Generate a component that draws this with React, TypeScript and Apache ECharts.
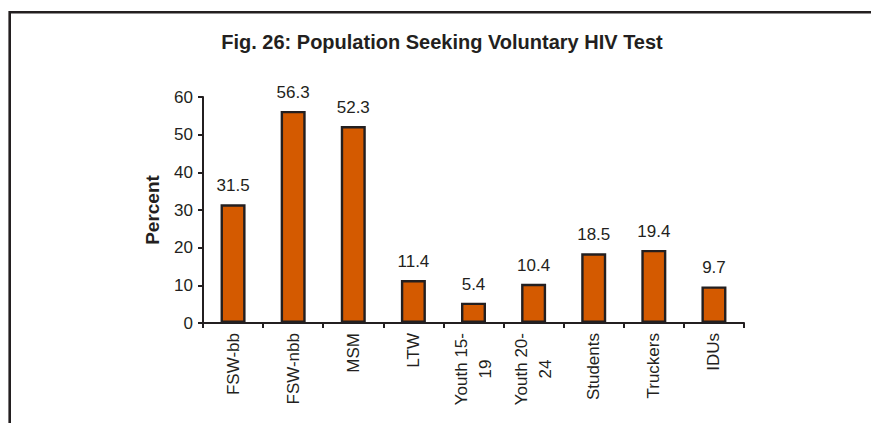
import React, { useEffect, useRef } from "react";
import * as echarts from "echarts";

const titleText = "Fig. 26: Population Seeking Voluntary HIV Test";
const yAxisName = "Percent";
const categories = ["FSW-bb", "FSW-nbb", "MSM", "LTW", "Youth 15-\n19", "Youth 20-\n24", "Students", "Truckers", "IDUs"];
const values = [31.5, 56.3, 52.3, 11.4, 5.4, 10.4, 18.5, 19.4, 9.7];
const yMin = 0;
const yMax = 60;
const yInterval = 10;

const FONT = "'Liberation Sans', Arial, sans-serif";
const INK = "#231f20";
const BAR = "#d45a00";

export default function App() {
  const ref = useRef<HTMLDivElement>(null);
  useEffect(() => {
    if (!ref.current) return;
    const chart = echarts.init(ref.current, null, { renderer: "svg" });
    chart.setOption({
      animation: false,
      backgroundColor: "#ffffff",
      title: {
        text: titleText,
        left: 437,
        top: 27,
        textAlign: "center",
        textStyle: { fontFamily: FONT, fontSize: 20, fontWeight: "bold", color: INK },
      },
      graphic: [
        {
          type: "rect",
          shape: { x: 9.7, y: 12.2, width: 1200, height: 1200 },
          style: { fill: "none", stroke: INK, lineWidth: 2.6 },
          silent: true,
          z: 100,
        },
      ],
      grid: { left: 203, right: 127, top: 97, bottom: 100 },
      xAxis: {
        type: "category",
        data: categories,
        axisLine: { lineStyle: { color: INK, width: 2 } },
        axisTick: { show: true, length: 5, lineStyle: { color: INK, width: 2 } },
        axisLabel: {
          rotate: 90,
          margin: 10,
          interval: 0,
          color: INK,
          fontFamily: FONT,
          fontSize: 17,
          formatter: (v: string) => {
            const parts = v.split("\n");
            if (parts.length === 1) return `{a|${v}}`;
            return `{a|${parts[0]}}\n{b|${parts[1]}}`;
          },
          rich: {
            a: { fontFamily: FONT, fontSize: 17, color: INK, lineHeight: 24 },
            b: { fontFamily: FONT, fontSize: 17, color: INK, lineHeight: 24, align: "center" },
          },
        },
      },
      yAxis: {
        type: "value",
        min: yMin,
        max: yMax,
        interval: yInterval,
        name: yAxisName,
        nameLocation: "middle",
        nameGap: 41,
        nameTextStyle: { fontFamily: FONT, fontSize: 19, fontWeight: "bold", color: INK },
        splitLine: { show: false },
        axisLine: { show: true, lineStyle: { color: INK, width: 2 } },
        axisTick: { show: true, length: 5, lineStyle: { color: INK, width: 2 } },
        axisLabel: { margin: 10, color: INK, fontFamily: FONT, fontSize: 17 },
      },
      series: [
        {
          type: "bar",
          data: values,
          barWidth: 25,
          itemStyle: { color: BAR, borderColor: INK, borderWidth: 2.4 },
          label: {
            show: true,
            position: "top",
            distance: 10,
            color: INK,
            fontFamily: FONT,
            fontSize: 17,
          },
        },
      ],
    });
    return () => chart.dispose();
  }, []);
  return (
    <div
      ref={ref}
      style={{ position: "fixed", left: 0, top: 0, width: 871, height: 423, background: "#fff" }}
    />
  );
}
